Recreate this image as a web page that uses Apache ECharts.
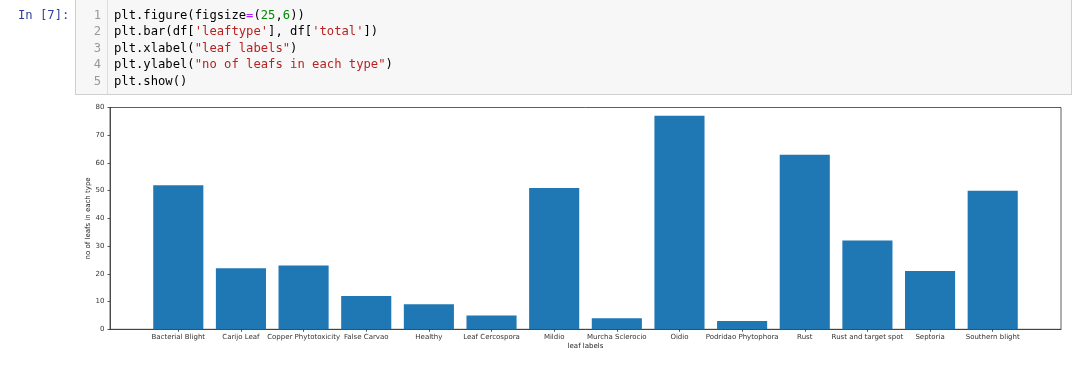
<!DOCTYPE html>
<html>
<head>
<meta charset="utf-8">
<script src="https://cdn.jsdelivr.net/npm/echarts@6/dist/echarts.min.js"></script>
<style>
  html, body { margin: 0; padding: 0; background: #fff; width: 1078px; height: 371px; overflow: hidden; }
  #chart { position: absolute; left: 0; top: 0; width: 1078px; height: 371px; }
  .prompt { position: absolute; left: 18px; top: 6.5px; font-family: "DejaVu Sans Mono", monospace; font-size: 12.2px; line-height: 16.5px; color: #303F9F; white-space: pre; }
  .cell { position: absolute; left: 75px; top: -1px; width: 997px; height: 96px; background: #f7f7f7; border: 1px solid #cfcfcf; box-sizing: border-box; }
  .gutter { position: absolute; left: 0; top: 0; width: 32px; height: 100%; border-right: 1px solid #ddd; box-sizing: border-box; }
  .lnum { position: absolute; left: 0; width: 25px; text-align: right; font-family: "DejaVu Sans Mono", monospace; font-size: 12.2px; line-height: 16.5px; color: #999; }
  .code { position: absolute; left: 38px; top: 6.5px; font-family: "DejaVu Sans Mono", monospace; font-size: 12.2px; line-height: 16.5px; color: #000; white-space: pre; }
  .op { color: #AA22FF; } .num { color: #008800; } .str { color: #BA2121; }
</style>
</head>
<body>
<div id="chart"></div>
<div class="prompt">In [7]:</div>
<div class="cell">
  <div class="gutter">
    <div class="lnum" style="top:6.5px">1</div>
    <div class="lnum" style="top:23px">2</div>
    <div class="lnum" style="top:39.5px">3</div>
    <div class="lnum" style="top:56px">4</div>
    <div class="lnum" style="top:72.5px">5</div>
  </div>
  <div class="code">plt.figure(figsize<span class="op">=</span>(<span class="num">25</span>,<span class="num">6</span>))
plt.bar(df[<span class="str">'leaftype'</span>], df[<span class="str">'total'</span>])
plt.xlabel(<span class="str">"leaf labels"</span>)
plt.ylabel(<span class="str">"no of leafs in each type"</span>)
plt.show()</div>
</div>
<script>
const categories = ["Bacterial Blight", "Carijo Leaf", "Copper Phytotoxicity", "False Carvao", "Healthy", "Leaf Cercospora", "Mildio", "Murcha Sclerocio", "Oidio", "Podridao Phytophora", "Rust", "Rust and target spot", "Septoria", "Southern blight"];
const totals = [52, 22, 23, 12, 9, 5, 51, 4, 77, 3, 63, 32, 21, 50];
const yTicks = [0, 10, 20, 30, 40, 50, 60, 70, 80];
const xLabel = "leaf labels";
const yLabel = "no of leafs in each type";

const positions = categories.map((c, i) => i);
const barData = totals.map((v, i) => [i, v]);

const chart = echarts.init(document.getElementById('chart'), null, { renderer: 'canvas' });
const font = "DejaVu Sans";
chart.setOption({
  animation: false,
  backgroundColor: '#fff',
  grid: {
    left: 110, right: 17, top: 107.5, bottom: 41.7,
    show: true, borderColor: '#333', borderWidth: 0.8, backgroundColor: 'transparent'
  },
  xAxis: {
    type: 'value',
    min: -1.09, max: 14.09,
    name: xLabel, nameLocation: 'middle', nameGap: 13.5, nameMoveOverlap: false,
    nameTextStyle: { fontFamily: font, fontSize: 7, color: '#222' },
    axisLine: { show: true, onZero: false, lineStyle: { color: '#333', width: 0.8 } },
    axisTick: { show: true, length: 2.5, inside: false, customValues: positions, lineStyle: { color: '#333', width: 0.8 } },
    axisLabel: {
      customValues: positions, margin: 4,
      fontFamily: font, fontSize: 7, color: '#333',
      formatter: (v) => categories[Math.round(v)] || ''
    },
    splitLine: { show: false }
  },
  yAxis: {
    type: 'value',
    min: 0, max: 80, interval: 10,
    name: yLabel, nameLocation: 'middle', nameGap: 18, nameRotate: 90, nameMoveOverlap: false,
    nameTextStyle: { fontFamily: font, fontSize: 7, color: '#222' },
    axisLine: { show: true, onZero: false, lineStyle: { color: '#333', width: 0.8 } },
    axisTick: { show: true, length: 2.5, inside: false, lineStyle: { color: '#333', width: 0.8 } },
    axisLabel: {
      margin: 5.5, fontFamily: font, fontSize: 7, color: '#333'
    },
    splitLine: { show: false }
  },
  series: [{
    type: 'bar',
    data: barData,
    barWidth: 50.1,
    itemStyle: { color: '#1f77b4' }
  }]
});
</script>
</body>
</html>
